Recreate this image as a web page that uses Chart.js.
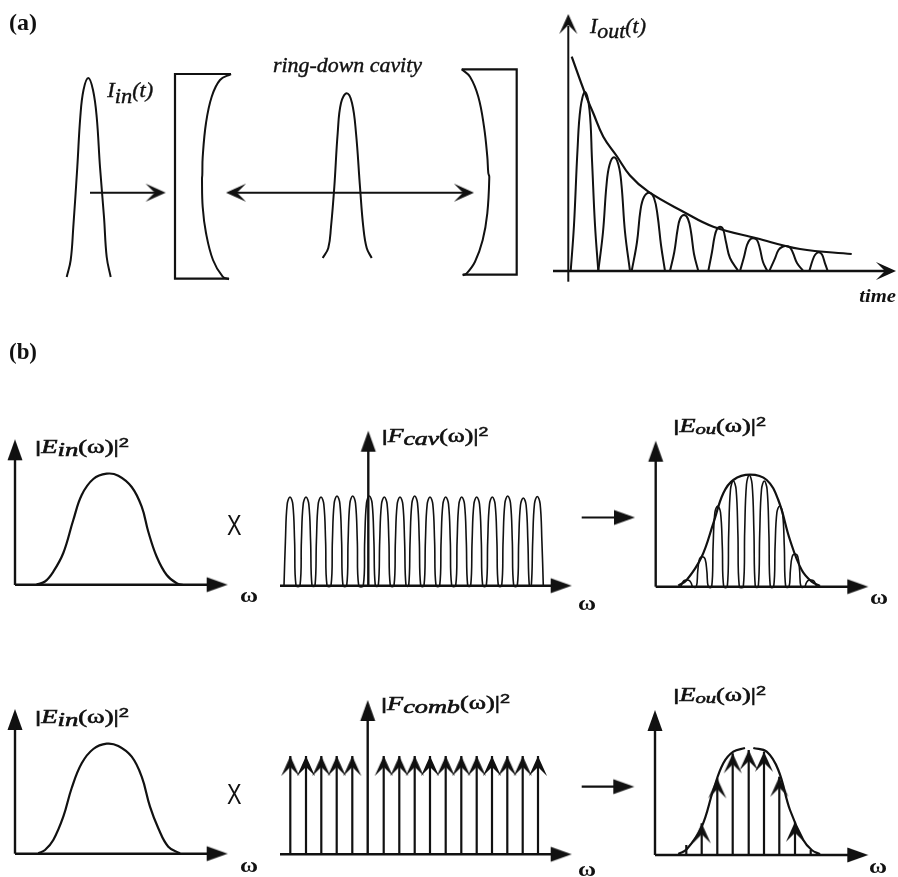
<!DOCTYPE html>
<html>
<head>
<meta charset="utf-8">
<title>Ring-down cavity</title>
<script src="https://cdn.jsdelivr.net/npm/chart.js@4"></script>
<style>
  html, body { margin: 0; padding: 0; background: #fff; }
  canvas { display: block; }
</style>
</head>
<body>
<canvas id="diagram" width="898" height="877"></canvas>
<script>

// (a) input pulse, mirrors, pulse inside the cavity
const inPulse = [[66.7,277],[70.7,260],[73.3,227],[77.3,167],[80.3,117],[83.5,90],[88.3,78],[93,90],[96.7,117],[100,167],[104,217],[106.7,257],[110.7,277]];
const cavityPulse = [[322.7,258],[328.3,248],[331,227],[334.3,187],[337.7,133],[341,103],[346.7,93.3],[352,103],[356,133],[360,187],[363.3,227],[366.7,248],[371.7,258]];
const leftMirrorFrame = [[231,74],[175,74],[175,278.7],[229,278.7]];
const leftMirrorFace = [[231,74],[220,80],[211.7,96.7],[206,123],[202.7,157],[202.3,175],[202,178.5],[202.7,207],[206,233],[213,260],[222.7,276.7],[229,279.3]];
const rightMirrorFrame = [[461.7,69.3],[516.7,69.3],[516.7,274.7],[462.7,274.7]];
const rightMirrorFace = [[461.7,69.3],[470,76.7],[478.3,96.7],[484,126.7],[487.3,156.7],[488.3,173],[489.3,177],[487.3,213.3],[482.7,240],[475,261.7],[466.7,273.3],[462.7,275.3]];
const inArrow = [[90,192.7],[160,192.7]];
const cavityArrow = [[231,192.7],[469,192.7]];

// (a) ring-down output
const outEnvelope = [[571.7,56.7],[585,93.3],[593.3,113.3],[603.3,136.7],[616.7,156],[630,175.5],[648.3,191.7],[683.3,211.7],[713.3,226.7],[756.7,238.3],[800,249],[851.7,254]];
const outPulse1 = [[570.7,271],[574,225],[577.5,150],[580.5,108],[585,92],[589.5,110],[592,160],[595,225],[598.3,271]];
const outPulse2 = [[598.3,271],[603,232],[606.5,185],[609.5,165],[614,157.3],[618.5,165],[621.5,185],[625,232],[630,271]];
const outPulse3 = [[631.7,271],[637,242],[640.5,210],[644,197],[649.3,192.7],[654,198],[657.5,215],[661,245],[665,271]];
const outPulse4 = [[670,271],[674.3,252],[677.5,230],[680,219],[684,215],[688,219],[691,232],[694,254],[698.3,271]];
const outPulse5 = [[708.3,271],[712,252],[714.5,237],[717,229],[720,226.7],[723,229],[726,242],[730,258],[738.3,271]];
const outPulse6 = [[740,271],[744,257],[747,245],[750,239.5],[753.3,238.3],[757,240],[760,249],[763,262],[767.3,271]];
const outPulse7 = [[769.3,271],[775,258.3],[778.5,250],[782,247],[786,246],[790,247.5],[793,253],[797,263],[803.3,271]];
const outPulse8 = [[809.3,271],[812.7,260],[815.3,254.5],[818.7,252.3],[822,254.5],[825,263.3],[827.7,271]];
const outAxisY = [[568.3,281.7],[568.3,26]];
const outAxisX = [[553,271],[885,271]];

// (b) spectra
const spectrumTop = [[36.7,584.3],[45,581.5],[53.3,571.7],[63.3,553],[73.3,520],[81.7,495],[93.3,479],[106.7,473.7],[118.3,475.7],[131.7,487],[141.7,506.7],[148.3,531.7],[156.7,556.7],[166.7,575],[176.7,583.3],[183.3,585]];
const spectrumBottom = [[38.3,853.3],[45,850],[53.3,840],[63.3,816.7],[71.7,788],[81.7,763.3],[93.3,749],[106.7,743.7],[118.3,746],[131.7,756.7],[141.7,776.7],[150,806.7],[158.3,828.3],[168.3,846.7],[180,853.3]];
const cavityPeakX = [290,306,321,337,352.7,369.3,384.3,400,414.7,430,445.7,461.7,476.7,492.3,507.7,523.3,537.3];
const cavityPeakY = [497,497,497,496,496,496,497,497,496,497,497,497,497,497,496,498,496.5];
const outPeakX = [686.7,702.3,717.7,733.3,749.3,764.3,779.7,795,810.7];
const outPeakY = [580,556.7,506,481,475.3,481,506,554,580];
const peakOffsets = [-6,-4.6,-2.8,0,2.8,4.6,6];
const peakHeights = [0,0.5,0.92,1,0.92,0.5,0];
const outEnvelopeTop = [[678.3,585.7],[686.7,580],[701.7,556.7],[713.3,523.3],[723.3,493.3],[733.3,480],[750,474.7],[766.7,480],[778.3,500],[790,540],[801.7,570],[811.7,581.7],[820,586]];
const outEnvelopeLeft = [[678.3,854],[686.7,849.3],[701.7,826.7],[713.3,790],[723.3,763.3],[733.3,751.7],[745,748]];
const outEnvelopeRight = [[753.3,748],[766.7,751.7],[778.3,770],[790,810],[803.3,840],[811.7,850],[820,854.3]];
const combX = [290.3,306,321.3,336.7,352.3,383.7,399.3,414.7,430,445.7,461.3,476.7,492,507.3,522.7,538];
const combTopY = [756,756,756,756,756,756,756,756,756,756,756,756,756,756,756,756];
const combOutX = [686.3,701.7,717.3,732.7,748.7,764,779.3,795,810.7];
const combOutY = [845,823.3,778.3,753.3,750,751.7,776.7,821.7,850];

const axesY = [[15,585,445],[368.3,585.7,440],[655.7,586.7,448],[15,853.7,715],[367.7,854.3,708],[655,855,718]];
const axesX = [[15,584.7,210],[280,585.7,555],[655.7,586.7,850],[15,853.7,210],[280,854.3,555],[655,855,850]];
const shortArrows = [[581.7,517.5,618],[581.7,786.7,618]];

// arrow heads, tip positions
const openTipsUp = [[568.3,14]];
const openTipsRight = [[165.7,192.7],[474,192.7],[896,271]];
const openTipsLeft = [[226,192.7]];
const solidTipsUp = [[15,439.3],[368.3,430.7],[655.7,440.7],[15,709],[367.7,700],[655,710]];
const solidTipsRight = [[227.7,584.7],[571.7,585.7],[868.3,586.7],[227.7,853.7],[571.7,854.3],[868.3,855],[635,517.5],[634.3,786.7]];

const serifE = "italic 19px 'Liberation Serif'";
const serifP = "19px 'Liberation Serif'";
const bar = "17px 'Liberation Sans'";
const two = "13px 'Liberation Sans'";
const omega = "bold 22px 'Liberation Serif'";
const labels = [
  { x: 9, y: 30, w: 28, runs: [["(a)", "bold 23px 'Liberation Serif'", 0]] },
  { x: 9, y: 359, w: 28, runs: [["(b)", "bold 23px 'Liberation Serif'", 0]] },
  { x: 107.3, y: 96.7, w: 46, heavy: 0.4, runs: [["I", "italic 22px 'Liberation Serif'", 0], ["in", "italic 22px 'Liberation Serif'", 6], ["(t)", "italic 22px 'Liberation Serif'", 0]] },
  { x: 273, y: 71.7, w: 149, heavy: 0.4, runs: [["ring-down cavity", "italic 21px 'Liberation Serif'", 0]] },
  { x: 590, y: 33, w: 56, heavy: 0.4, runs: [["I", "italic 22px 'Liberation Serif'", 0], ["out", "italic 22px 'Liberation Serif'", 5], ["(t)", "italic 22px 'Liberation Serif'", 0]] },
  { x: 859.3, y: 302, w: 36.7, runs: [["time", "italic bold 18px 'Liberation Serif'", 0]] },
  { x: 35, y: 453, w: 94, heavy: 0.6, runs: [["|", bar, 0], ["E", serifE, 0], ["in", serifE, 3], ["(ω)|", serifP, 0], ["2", two, -6]] },
  { x: 35, y: 723.3, w: 94, heavy: 0.6, runs: [["|", bar, 0], ["E", serifE, 0], ["in", serifE, 3], ["(ω)|", serifP, 0], ["2", two, -6]] },
  { x: 381.7, y: 441.7, w: 106.6, heavy: 0.6, runs: [["|", bar, 0], ["F", serifE, 0], ["cav", serifE, 3], ["(ω)|", serifP, 0], ["2", two, -6]] },
  { x: 381, y: 710, w: 129, heavy: 0.6, runs: [["|", bar, 0], ["F", serifE, 0], ["comb", serifE, 3], ["(ω)|", serifP, -1], ["2", two, -7]] },
  { x: 673.3, y: 431.7, w: 92.7, heavy: 0.6, runs: [["|", bar, 0], ["E", serifE, 0], ["ou", "italic 15px 'Liberation Serif'", 2], ["(ω)|", serifP, 0], ["2", two, -6]] },
  { x: 673.3, y: 700.7, w: 92.7, heavy: 0.6, runs: [["|", bar, 0], ["E", serifE, 0], ["ou", "italic 15px 'Liberation Serif'", 2], ["(ω)|", serifP, 0], ["2", two, -6]] },
  { x: 240, y: 601.7, w: 18, runs: [["ω", omega, 0]] },
  { x: 578, y: 610, w: 18, runs: [["ω", omega, 0]] },
  { x: 870, y: 604, w: 18, runs: [["ω", omega, 0]] },
  { x: 240, y: 871.7, w: 18, runs: [["ω", omega, 0]] },
  { x: 578, y: 876, w: 18, runs: [["ω", omega, 0]] },
  { x: 869, y: 872.7, w: 18, runs: [["ω", omega, 0]] },
  { x: 227, y: 535, w: 14.5, runs: [["X", "30px 'Liberation Sans Narrow', 'Liberation Sans'", 0]] },
  { x: 227, y: 804, w: 14.5, runs: [["X", "30px 'Liberation Sans Narrow', 'Liberation Sans'", 0]] }
];

const ink = "#111111";

// arrow head bitmap, the tip sits in the middle so a point marks the tip
function headImage(len, half, notch) {
  const c = document.createElement("canvas");
  const mid = len + 3;
  c.width = c.height = mid * 2;
  const g = c.getContext("2d");
  g.fillStyle = ink;
  g.beginPath();
  g.moveTo(mid, mid);
  g.lineTo(mid - half, mid + len);
  g.lineTo(mid, mid + notch);
  g.lineTo(mid + half, mid + len);
  g.closePath();
  g.fill();
  return c;
}

const openHead = headImage(20, 9, 11);
const solidHead = headImage(21, 7.5, 21);

function curve(points, width) {
  return { data: points, borderColor: ink, borderWidth: width || 2, tension: 0.4 };
}
function straight(points, width) {
  return { data: points, borderColor: ink, borderWidth: width || 2, tension: 0 };
}
function heads(points, image, rotation) {
  return { data: points, showLine: false, pointStyle: image, pointRadius: 3, rotation: rotation };
}
function peakTrain(xs, ys, base) {
  const pts = [];
  xs.forEach((x, i) => {
    peakOffsets.forEach((dx, k) => pts.push([x + dx, base + (ys[i] - base) * peakHeights[k]]));
  });
  return pts;
}
function stems(xs, tops, base, width) {
  return xs.map((x, i) => straight([[x, base], [x, tops[i]]], width));
}

const datasets = [
  curve(inPulse), curve(cavityPulse),
  straight(leftMirrorFrame, 2.2), curve(leftMirrorFace),
  straight(rightMirrorFrame, 2.2), curve(rightMirrorFace),
  straight(inArrow), straight(cavityArrow),
  curve(outEnvelope, 2.2),
  curve(outPulse1), curve(outPulse2), curve(outPulse3), curve(outPulse4),
  curve(outPulse5), curve(outPulse6), curve(outPulse7), curve(outPulse8),
  straight(outAxisY), straight(outAxisX, 2.4),
  curve(spectrumTop, 2.2), curve(spectrumBottom, 2.2),
  curve(peakTrain(cavityPeakX, cavityPeakY, 585.7), 1.6),
  curve(peakTrain(outPeakX, outPeakY, 586.7), 1.6),
  curve(outEnvelopeTop, 2.2), curve(outEnvelopeLeft, 2.2), curve(outEnvelopeRight, 2.2),
  ...stems(combX, combTopY, 854.3, 2.2),
  ...stems(combOutX, combOutY, 855, 2.2),
  ...axesY.map(a => straight([[a[0], a[1]], [a[0], a[2]]], 2.4)),
  ...axesX.map(a => straight([[a[0], a[1]], [a[2], a[1]]], 2.4)),
  ...shortArrows.map(a => straight([[a[0], a[1]], [a[2], a[1]]], 2.2)),
  heads(openTipsUp, openHead, 0),
  heads(openTipsRight, openHead, 90),
  heads(openTipsLeft, openHead, 270),
  heads(solidTipsUp, solidHead, 0),
  heads(solidTipsRight, solidHead, 90),
  heads(combX.map((x, i) => [x, combTopY[i]]), openHead, 0),
  heads(combOutX.slice(1, -1).map((x, i) => [x, combOutY[i + 1]]), openHead, 0)
];

// the labels have subscripts, so each one is drawn run by run and fitted to its read width
const labelPlugin = {
  id: "labels",
  afterDatasetsDraw(chart) {
    const ctx = chart.ctx;
    ctx.save();
    ctx.fillStyle = ink;
    ctx.strokeStyle = ink;
    ctx.textBaseline = "alphabetic";
    labels.forEach(l => {
      let total = 0;
      l.runs.forEach(r => { ctx.font = r[1]; total += ctx.measureText(r[0]).width; });
      const px = chart.scales.x.getPixelForValue(l.x);
      const py = chart.scales.y.getPixelForValue(l.y);
      ctx.save();
      ctx.translate(px, py);
      ctx.scale(l.w / total, 1);
      let at = 0;
      l.runs.forEach(r => {
        ctx.font = r[1];
        ctx.fillText(r[0], at, r[2]);
        // the scan is heavier than the plain weight, bold is too much
        if (l.heavy) {
          ctx.lineWidth = l.heavy;
          ctx.strokeText(r[0], at, r[2]);
        }
        at += ctx.measureText(r[0]).width;
      });
      ctx.restore();
    });
    ctx.restore();
  }
};

new Chart(document.getElementById("diagram"), {
  type: "scatter",
  data: { datasets },
  options: {
    responsive: false,
    animation: false,
    events: [],
    layout: { padding: 0, autoPadding: false },
    datasets: { scatter: { showLine: true, pointRadius: 0, clip: false } },
    plugins: { colors: { enabled: false }, legend: { display: false }, tooltip: { enabled: false } },
    scales: {
      x: { type: "linear", min: 0, max: 898, display: false },
      y: { type: "linear", min: 0, max: 877, reverse: true, display: false }
    }
  },
  plugins: [labelPlugin]
});
</script>
</body>
</html>
